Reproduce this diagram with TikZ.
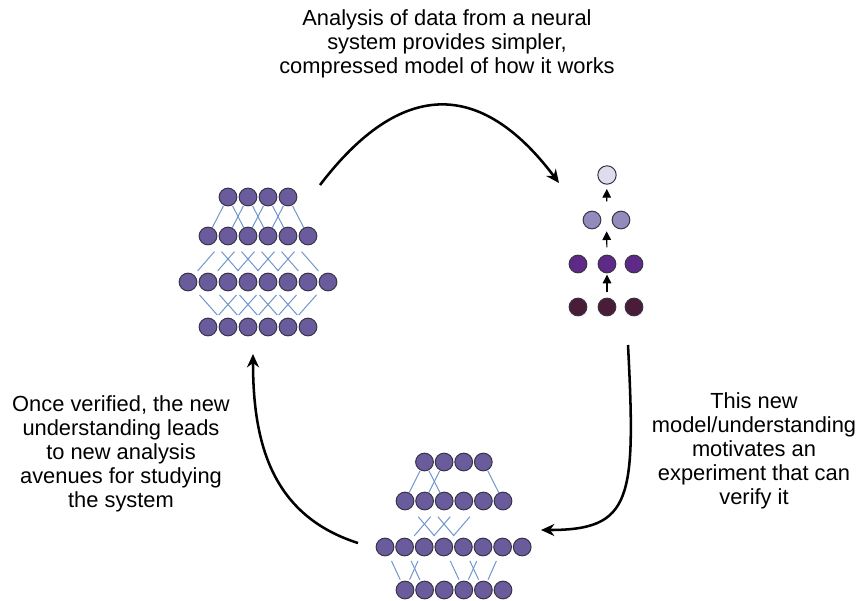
\documentclass[tikz,border=0pt]{standalone}
\usepackage{fontspec}
\setmainfont{Liberation Sans}
\usepackage{xcolor}
\usepackage{tikz}
\usetikzlibrary{arrows.meta, positioning, calc}
\definecolor{unitfill}{RGB}{106,91,156}
\definecolor{unitedge}{RGB}{55,52,70}
\definecolor{linkblue}{RGB}{112,150,205}
\definecolor{outfill}{RGB}{222,220,237}
\definecolor{hidfill}{RGB}{147,139,187}
\definecolor{midfill}{RGB}{95,42,135}
\definecolor{infill}{RGB}{75,28,55}
\tikzstyle{unit} = [circle, draw=unitedge, line width=0.75pt, fill=unitfill, minimum size=13.3pt, inner sep=0pt]
\tikzstyle{bigarrow} = [line width=1.9pt, -{Stealth[length=10pt, width=9pt]}]

\begin{document}
\begin{tikzpicture}[
        x=0.75pt, y=-0.75pt,
        link/.style={draw=linkblue, line width=0.75pt},
        linkA/.style={link, shorten <=7.5pt, shorten >=6.8pt},
        linkB/.style={link, shorten <=15.5pt, shorten >=11pt},
        linkC/.style={link, shorten <=11.5pt, shorten >=8.5pt},
        linkD/.style={link, shorten <=13pt, shorten >=12pt},
        note/.style={align=center, inner sep=0pt, font=\fontsize{16.4}{18.1}\selectfont},
        tiny/.style={line width=0.8pt, -{Triangle[length=6.5pt, width=6.5pt]}}
    ]
        \useasboundingbox (0,0) rectangle (859,600);

        % Full network on the left
        \foreach \i in {0,...,3} \node[unit] (a1-\i) at (228+20*\i,197) {};
        \foreach \i in {0,...,5} \node[unit] (a2-\i) at (208+20*\i,236) {};
        \foreach \i in {0,...,7} \node[unit] (a3-\i) at (188+20*\i,282) {};
        \foreach \i in {0,...,5} \node[unit] (a4-\i) at (208+20*\i,327) {};

        \foreach \i [evaluate=\i as \j using int(\i+2)] in {0,...,3} {
            \draw[linkA] (a1-\i.center) -- (a2-\i.center);
            \draw[linkA] (a1-\i.center) -- (a2-\j.center);
        }
        \foreach \i [evaluate=\i as \j using int(\i+3)] in {0,...,4}
            \draw[linkB] (a2-\i.center) -- (a3-\j.center);
        \foreach \i [evaluate=\i as \j using int(\i-1)] in {1,...,5}
            \draw[linkB] (a2-\i.center) -- (a3-\j.center);
        \foreach \i [evaluate=\i as \j using int(\i+1)] in {0,...,4}
            \draw[linkD] (a3-\i.center) -- (a4-\j.center);
        \foreach \i [evaluate=\i as \j using int(\i-3)] in {3,...,7}
            \draw[linkD] (a3-\i.center) -- (a4-\j.center);

        % Compressed model on the right
        \node[unit, fill=outfill, minimum size=13.8pt] (out) at (607,175) {};
        \node[unit, fill=hidfill] (h-0) at (592,220) {};
        \node[unit, fill=hidfill] (h-1) at (621,220) {};
        \foreach \x [count=\k from 0] in {578,607,634} {
            \node[unit, fill=midfill] (m-\k) at (\x,264) {};
            \node[unit, fill=infill] (s-\k) at (\x,307) {};
        }
        \coordinate (hmid) at ($(h-0)!0.5!(h-1)$);
        \draw[tiny, shorten <=11pt, shorten >=8pt] (s-1.center) -- (m-1.center);
        \draw[tiny, shorten <=12.5pt, shorten >=8.5pt] (m-1.center) -- (hmid);
        \draw[tiny, shorten <=14pt, shorten >=10.5pt] (hmid) -- (out.center);

        % Pruned network at the bottom
        \foreach \i in {0,...,3} \node[unit] (b1-\i) at (424.5+19.6*\i,462) {};
        \foreach \i in {0,...,5} \node[unit] (b2-\i) at (405+19.6*\i,501) {};
        \foreach \i in {0,...,7} \node[unit] (b3-\i) at (385+19.6*\i,547) {};
        \foreach \i in {0,...,5} \node[unit] (b4-\i) at (405+19.6*\i,590) {};

        \foreach \p/\q in {0/0, 0/2, 1/1, 3/5}
            \draw[linkA] (b1-\p.center) -- (b2-\q.center);
        \foreach \p/\q in {0/3, 1/4, 2/1, 3/2, 4/3}
            \draw[linkB] (b2-\p.center) -- (b3-\q.center);
        \foreach \p/\q in {0/0, 1/1, 2/0, 3/3, 4/4, 5/3, 6/4}
            \draw[linkC] (b3-\p.center) -- (b4-\q.center);

        % Add the cycle arrows
        \coordinate (topA) at (320,185);
        \coordinate (topB) at (559,183);
        \draw[bigarrow] (topA) .. controls (400,80) and (480,78) .. (topB);
        \coordinate (rightA) at (628,345);
        \coordinate (rightB) at (541,530);
        \draw[bigarrow] (rightA) .. controls (636,500) and (632,530) .. (rightB);
        \coordinate (leftA) at (358,543);
        \coordinate (leftB) at (253,354);
        \draw[bigarrow] (leftA) .. controls (270,515) and (253,440) .. (leftB);

        % Add labels
        \node[note] (analysis) at (447,44) {Analysis of data from a neural\\system provides simpler,\\compressed model of how it works};
        \node[note] (motivates) at (754,451) {This new\\model/understanding\\motivates an\\experiment that can\\verify it};
        \node[note] (verified) at (121,454) {Once verified, the new\\understanding leads\\to new analysis\\avenues for studying\\the system};

    \end{tikzpicture}
\end{document}
